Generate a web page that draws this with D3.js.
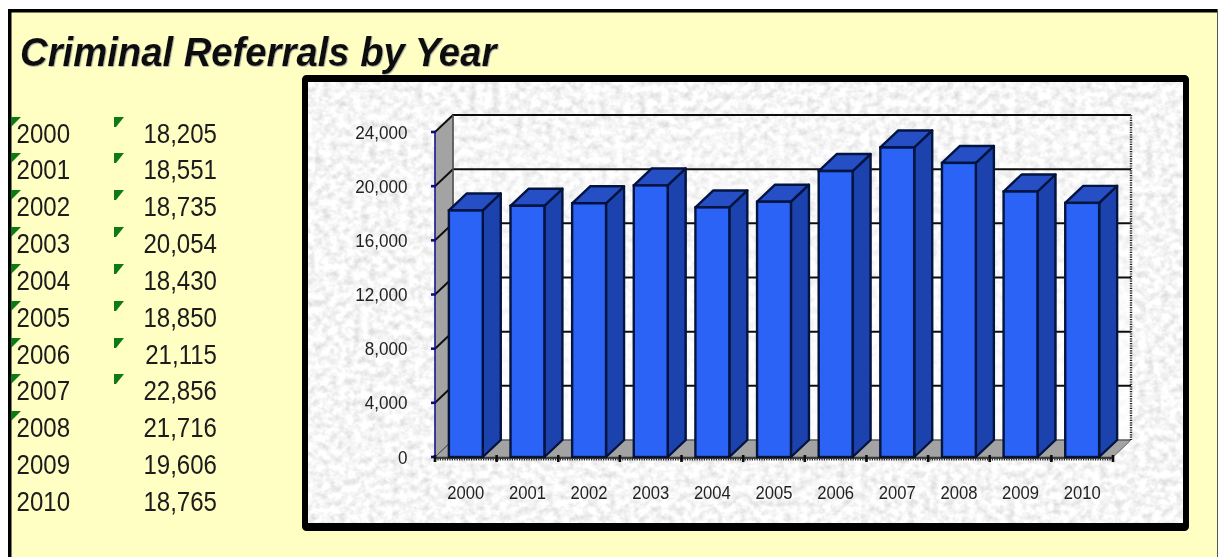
<!DOCTYPE html>
<html><head><meta charset="utf-8">
<style>html,body{margin:0;padding:0;background:#fff;overflow:hidden}svg{display:block}text{font-family:"Liberation Sans",Arial,sans-serif}</style>
<script src="https://cdnjs.cloudflare.com/ajax/libs/d3/7.8.5/d3.min.js"></script>
</head><body><svg id="c" width="1221" height="557"></svg>
<script>
const years=["2000","2001","2002","2003","2004","2005","2006","2007","2008","2009","2010"];
const referrals=[18205,18551,18735,20054,18430,18850,21115,22856,21716,19606,18765];
const yTicks=[0,4000,8000,12000,16000,20000,24000];
const rowBaselines=[143,179,216,253,290,327,364,400,437,474,511];
const yearFlagCount=9, valueFlagCount=8;

const svg=d3.select("#c"), fmt=d3.format(",");
const defs=svg.append("defs");
const f=defs.append("filter").attr("id","marble").attr("x",0).attr("y",0).attr("width","100%").attr("height","100%");
f.append("feTurbulence").attr("type","fractalNoise").attr("baseFrequency","0.13 0.14").attr("numOctaves",3).attr("seed",11);
f.append("feColorMatrix").attr("type","matrix").attr("values","0.55 0 0 0 0.645  0.55 0 0 0 0.645  0.55 0 0 0 0.645  0 0 0 0 1");
f.append("feGaussianBlur").attr("stdDeviation",0.7);
const soft=defs.append("filter").attr("id","soft").attr("x","-2%").attr("y","-2%").attr("width","104%").attr("height","104%");
soft.append("feGaussianBlur").attr("stdDeviation",0.5);
const tshadow=defs.append("filter").attr("id","tsh").attr("x","-2%").attr("y","-10%").attr("width","104%").attr("height","130%");
tshadow.append("feDropShadow").attr("dx",0.7).attr("dy",0.7).attr("stdDeviation",0.6).attr("flood-color","#999");

function scaledText(parent,str,px,py,size,sx,anchor,fill){
  return parent.append("text").text(str).attr("transform",`translate(${px},${py}) scale(${sx},1)`)
    .attr("text-anchor",anchor).attr("font-size",size).attr("fill",fill);
}

// slide
svg.append("rect").attr("x",8).attr("y",9).attr("width",1210).attr("height",548).attr("fill","#ffffc4");
svg.append("rect").attr("x",8).attr("y",9).attr("width",1210).attr("height",3.5).attr("fill","#000");
svg.append("rect").attr("x",8).attr("y",9).attr("width",3.5).attr("height",548).attr("fill","#000");
svg.append("rect").attr("x",1217).attr("y",9).attr("width",1).attr("height",548).attr("fill","#555");

scaledText(svg,"Criminal Referrals by Year",20,66,40,0.957,"start","#0a0a0a")
  .attr("font-weight","bold").attr("font-style","italic").attr("filter","url(#tsh)");

// table
const tbl=svg.append("g").attr("filter","url(#soft)");
years.forEach((yr,i)=>{
  const b=rowBaselines[i];
  scaledText(tbl,yr,16.5,b,27.5,0.875,"start","#1a1a1a");
  scaledText(tbl,fmt(referrals[i]),217,b,27.5,0.875,"end","#1a1a1a");
  if(i<yearFlagCount) tbl.append("path").attr("d",`M11,${b-26}h10l-10,10z`).attr("fill","#0b7a12");
  if(i<valueFlagCount) tbl.append("path").attr("d",`M114,${b-26}h10l-8,10h-2z`).attr("fill","#0b7a12");
});

// chart panel
svg.append("rect").attr("x",304.5).attr("y",77.5).attr("width",882).attr("height",451).attr("rx",2).attr("fill","#000").attr("stroke","#000").attr("stroke-width",5);
svg.append("rect").attr("x",308).attr("y",82).attr("width",875).attr("height",441).attr("filter","url(#marble)");

const y=d3.scaleLinear().domain([0,24000]).range([457,132]);
const x=d3.scaleBand().domain(years).range([435,1113]).paddingInner(0.45).paddingOuter(0.225);
const dx=18, dy=-17;
const backL=435+dx, backR=1113+dx;

// walls and floor
const g=svg.append("g").attr("filter","url(#soft)");
const wallGrad=defs.append("linearGradient").attr("id","wall").attr("x1",0).attr("y1",0).attr("x2",0).attr("y2",1);
wallGrad.append("stop").attr("offset","0%").attr("stop-color","#fff").attr("stop-opacity",0);
wallGrad.append("stop").attr("offset","55%").attr("stop-color","#fff").attr("stop-opacity",0.5);
wallGrad.append("stop").attr("offset","100%").attr("stop-color","#fff").attr("stop-opacity",0.85);
g.append("rect").attr("x",backL).attr("y",y(24000)+dy).attr("width",backR-backL).attr("height",y(0)-y(24000)).attr("fill","url(#wall)");
g.append("path").attr("d",`M435,${y(0)}L435,${y(24000)}L${backL},${y(24000)+dy}L${backL},${y(0)+dy}Z`).attr("fill","#a3a3a3").attr("stroke","#666").attr("stroke-width",1);
g.append("path").attr("d",`M435,${y(0)}L${backL},${y(0)+dy}L${backR},${y(0)+dy}L1113,${y(0)}Z`).attr("fill","#a3a3a3").attr("stroke","#666").attr("stroke-width",1);

// gridlines
yTicks.forEach(t=>{
  g.append("path").attr("d",`M435,${y(t)}L${backL},${y(t)+dy}L${backR},${y(t)+dy}`).attr("fill","none").attr("stroke",t===0?"#555":"#111").attr("stroke-width",t===0?1:2);
});
g.append("line").attr("x1",backL).attr("x2",backL).attr("y1",y(24000)+dy).attr("y2",y(0)+dy).attr("stroke","#555").attr("stroke-width",1.5);
g.append("line").attr("x1",backR).attr("x2",backR).attr("y1",y(24000)+dy).attr("y2",y(0)+dy).attr("stroke","#222").attr("stroke-width",2.4).attr("stroke-dasharray","1.2 1.2");
g.append("line").attr("x1",1113).attr("x2",backR).attr("y1",y(0)).attr("y2",y(0)+dy).attr("stroke","#888").attr("stroke-width",1);

// bars
const bars=g.selectAll("g.bar").data(years.map((k,i)=>({k,v:referrals[i]}))).join("g").attr("class","bar");
const edge="#06123f";
bars.append("path").attr("d",d=>{const l=x(d.k)+x.bandwidth(),t=y(d.v);return `M${l},${y(0)}L${l},${t}L${l+dx},${t+dy}L${l+dx},${y(0)+dy}Z`;})
  .attr("fill","#1f43ae").attr("stroke",edge).attr("stroke-width",2.4).attr("stroke-linejoin","round");
bars.append("path").attr("d",d=>{const l=x(d.k),w=x.bandwidth(),t=y(d.v);return `M${l},${t}L${l+dx},${t+dy}L${l+w+dx},${t+dy}L${l+w},${t}Z`;})
  .attr("fill","#2550c6").attr("stroke",edge).attr("stroke-width",2.4).attr("stroke-linejoin","round");
bars.append("rect").attr("x",d=>x(d.k)).attr("y",d=>y(d.v)).attr("width",x.bandwidth()).attr("height",d=>y(0)-y(d.v))
  .attr("fill","#2a63f5").attr("stroke",edge).attr("stroke-width",2.4);

// y axis
const ya=svg.append("g").attr("filter","url(#soft)");
ya.append("line").attr("x1",435).attr("x2",435).attr("y1",y(24000)).attr("y2",y(0)).attr("stroke","#10109a").attr("stroke-width",1.4);
ya.selectAll("line.t").data(yTicks).join("line").attr("class","t").attr("x1",431).attr("x2",436).attr("y1",d=>y(d)).attr("y2",d=>y(d)).attr("stroke","#0c0c80").attr("stroke-width",2.6);
yTicks.forEach(t=>scaledText(ya,fmt(t),407.5,y(t)+6.5,18,0.95,"end","#222"));

// x axis
const xa=svg.append("g").attr("filter","url(#soft)");
xa.append("line").attr("x1",435).attr("x2",1113).attr("y1",458).attr("y2",458).attr("stroke","#111").attr("stroke-width",1.5);
xa.append("line").attr("x1",435).attr("x2",1113).attr("y1",459.5).attr("y2",459.5).attr("stroke","#222").attr("stroke-width",2).attr("stroke-dasharray","1.2 1.2");
const step=x.step();
xa.selectAll("line.t").data(d3.range(0,12)).join("line").attr("class","t").attr("x1",d=>435+d*step).attr("x2",d=>435+d*step).attr("y1",455).attr("y2",462).attr("stroke","#111").attr("stroke-width",2.6);
years.forEach(yr=>scaledText(xa,yr,x(yr)+x.bandwidth()/2,499,17.5,0.95,"middle","#222"));
</script></body></html>
